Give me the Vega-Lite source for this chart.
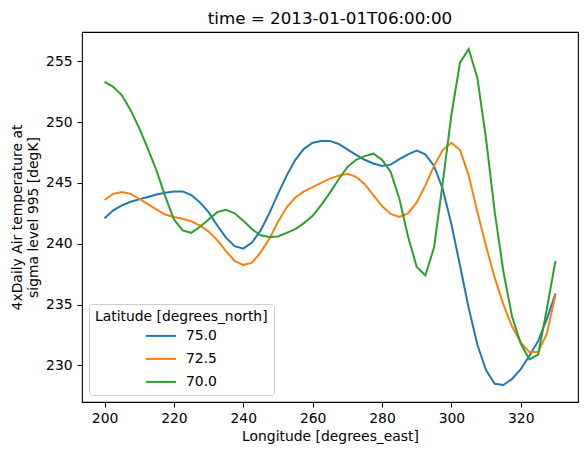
{
  "$schema": "https://vega.github.io/schema/vega-lite/v6.json",
  "width": 496,
  "height": 370,
  "autosize": {"type": "none"},
  "padding": {"left": 82, "top": 32, "right": 9, "bottom": 53},
  "background": "white",
  "title": {
    "text": "time = 2013-01-01T06:00:00",
    "fontSize": 16.7,
    "fontWeight": "normal",
    "font": "DejaVu Sans",
    "color": "black",
    "anchor": "middle",
    "frame": "group",
    "offset": 4
  },
  "datasets": {
    "air": [
      {"lon": 200, "lat": "75.0", "air": 242.1},
      {"lon": 202.5, "lat": "75.0", "air": 242.75},
      {"lon": 205, "lat": "75.0", "air": 243.15},
      {"lon": 207.5, "lat": "75.0", "air": 243.45},
      {"lon": 210, "lat": "75.0", "air": 243.65},
      {"lon": 212.5, "lat": "75.0", "air": 243.85},
      {"lon": 215, "lat": "75.0", "air": 244.05},
      {"lon": 217.5, "lat": "75.0", "air": 244.2},
      {"lon": 220, "lat": "75.0", "air": 244.3},
      {"lon": 222.5, "lat": "75.0", "air": 244.3},
      {"lon": 225, "lat": "75.0", "air": 244.0},
      {"lon": 227.5, "lat": "75.0", "air": 243.4},
      {"lon": 230, "lat": "75.0", "air": 242.6},
      {"lon": 232.5, "lat": "75.0", "air": 241.5},
      {"lon": 235, "lat": "75.0", "air": 240.5},
      {"lon": 237.5, "lat": "75.0", "air": 239.8},
      {"lon": 240, "lat": "75.0", "air": 239.6},
      {"lon": 242.5, "lat": "75.0", "air": 240.1},
      {"lon": 245, "lat": "75.0", "air": 241.1},
      {"lon": 247.5, "lat": "75.0", "air": 242.5},
      {"lon": 250, "lat": "75.0", "air": 244.1},
      {"lon": 252.5, "lat": "75.0", "air": 245.6},
      {"lon": 255, "lat": "75.0", "air": 246.9},
      {"lon": 257.5, "lat": "75.0", "air": 247.8},
      {"lon": 260, "lat": "75.0", "air": 248.3},
      {"lon": 262.5, "lat": "75.0", "air": 248.45},
      {"lon": 265, "lat": "75.0", "air": 248.45},
      {"lon": 267.5, "lat": "75.0", "air": 248.2},
      {"lon": 270, "lat": "75.0", "air": 247.75},
      {"lon": 272.5, "lat": "75.0", "air": 247.3},
      {"lon": 275, "lat": "75.0", "air": 246.9},
      {"lon": 277.5, "lat": "75.0", "air": 246.6},
      {"lon": 280, "lat": "75.0", "air": 246.4},
      {"lon": 282.5, "lat": "75.0", "air": 246.5},
      {"lon": 285, "lat": "75.0", "air": 246.95},
      {"lon": 287.5, "lat": "75.0", "air": 247.35},
      {"lon": 290, "lat": "75.0", "air": 247.65},
      {"lon": 292.5, "lat": "75.0", "air": 247.35},
      {"lon": 295, "lat": "75.0", "air": 246.4},
      {"lon": 297.5, "lat": "75.0", "air": 244.5},
      {"lon": 300, "lat": "75.0", "air": 241.6},
      {"lon": 302.5, "lat": "75.0", "air": 238.2},
      {"lon": 305, "lat": "75.0", "air": 234.7},
      {"lon": 307.5, "lat": "75.0", "air": 231.7},
      {"lon": 310, "lat": "75.0", "air": 229.6},
      {"lon": 312.5, "lat": "75.0", "air": 228.5},
      {"lon": 315, "lat": "75.0", "air": 228.4},
      {"lon": 317.5, "lat": "75.0", "air": 228.9},
      {"lon": 320, "lat": "75.0", "air": 229.7},
      {"lon": 322.5, "lat": "75.0", "air": 230.8},
      {"lon": 325, "lat": "75.0", "air": 232.0},
      {"lon": 327.5, "lat": "75.0", "air": 233.8},
      {"lon": 330, "lat": "75.0", "air": 235.9},

      {"lon": 200, "lat": "72.5", "air": 243.6},
      {"lon": 202.5, "lat": "72.5", "air": 244.1},
      {"lon": 205, "lat": "72.5", "air": 244.25},
      {"lon": 207.5, "lat": "72.5", "air": 244.1},
      {"lon": 210, "lat": "72.5", "air": 243.7},
      {"lon": 212.5, "lat": "72.5", "air": 243.25},
      {"lon": 215, "lat": "72.5", "air": 242.8},
      {"lon": 217.5, "lat": "72.5", "air": 242.4},
      {"lon": 220, "lat": "72.5", "air": 242.2},
      {"lon": 222.5, "lat": "72.5", "air": 242.05},
      {"lon": 225, "lat": "72.5", "air": 241.85},
      {"lon": 227.5, "lat": "72.5", "air": 241.5},
      {"lon": 230, "lat": "72.5", "air": 241.0},
      {"lon": 232.5, "lat": "72.5", "air": 240.3},
      {"lon": 235, "lat": "72.5", "air": 239.4},
      {"lon": 237.5, "lat": "72.5", "air": 238.6},
      {"lon": 240, "lat": "72.5", "air": 238.25},
      {"lon": 242.5, "lat": "72.5", "air": 238.45},
      {"lon": 245, "lat": "72.5", "air": 239.3},
      {"lon": 247.5, "lat": "72.5", "air": 240.4},
      {"lon": 250, "lat": "72.5", "air": 241.8},
      {"lon": 252.5, "lat": "72.5", "air": 243.0},
      {"lon": 255, "lat": "72.5", "air": 243.8},
      {"lon": 257.5, "lat": "72.5", "air": 244.3},
      {"lon": 260, "lat": "72.5", "air": 244.65},
      {"lon": 262.5, "lat": "72.5", "air": 245.0},
      {"lon": 265, "lat": "72.5", "air": 245.35},
      {"lon": 267.5, "lat": "72.5", "air": 245.6},
      {"lon": 270, "lat": "72.5", "air": 245.75},
      {"lon": 272.5, "lat": "72.5", "air": 245.5},
      {"lon": 275, "lat": "72.5", "air": 244.9},
      {"lon": 277.5, "lat": "72.5", "air": 244.0},
      {"lon": 280, "lat": "72.5", "air": 243.1},
      {"lon": 282.5, "lat": "72.5", "air": 242.45},
      {"lon": 285, "lat": "72.5", "air": 242.2},
      {"lon": 287.5, "lat": "72.5", "air": 242.5},
      {"lon": 290, "lat": "72.5", "air": 243.4},
      {"lon": 292.5, "lat": "72.5", "air": 244.8},
      {"lon": 295, "lat": "72.5", "air": 246.4},
      {"lon": 297.5, "lat": "72.5", "air": 247.7},
      {"lon": 300, "lat": "72.5", "air": 248.3},
      {"lon": 302.5, "lat": "72.5", "air": 247.7},
      {"lon": 305, "lat": "72.5", "air": 245.6},
      {"lon": 307.5, "lat": "72.5", "air": 242.6},
      {"lon": 310, "lat": "72.5", "air": 239.8},
      {"lon": 312.5, "lat": "72.5", "air": 237.2},
      {"lon": 315, "lat": "72.5", "air": 235.0},
      {"lon": 317.5, "lat": "72.5", "air": 233.2},
      {"lon": 320, "lat": "72.5", "air": 231.9},
      {"lon": 322.5, "lat": "72.5", "air": 231.1},
      {"lon": 325, "lat": "72.5", "air": 231.1},
      {"lon": 327.5, "lat": "72.5", "air": 232.6},
      {"lon": 330, "lat": "72.5", "air": 235.8},

      {"lon": 200, "lat": "70.0", "air": 253.3},
      {"lon": 202.5, "lat": "70.0", "air": 252.9},
      {"lon": 205, "lat": "70.0", "air": 252.2},
      {"lon": 207.5, "lat": "70.0", "air": 251.0},
      {"lon": 210, "lat": "70.0", "air": 249.5},
      {"lon": 212.5, "lat": "70.0", "air": 247.8},
      {"lon": 215, "lat": "70.0", "air": 246.0},
      {"lon": 217.5, "lat": "70.0", "air": 243.9},
      {"lon": 220, "lat": "70.0", "air": 242.0},
      {"lon": 222.5, "lat": "70.0", "air": 241.1},
      {"lon": 225, "lat": "70.0", "air": 240.9},
      {"lon": 227.5, "lat": "70.0", "air": 241.4},
      {"lon": 230, "lat": "70.0", "air": 242.0},
      {"lon": 232.5, "lat": "70.0", "air": 242.6},
      {"lon": 235, "lat": "70.0", "air": 242.8},
      {"lon": 237.5, "lat": "70.0", "air": 242.5},
      {"lon": 240, "lat": "70.0", "air": 241.9},
      {"lon": 242.5, "lat": "70.0", "air": 241.2},
      {"lon": 245, "lat": "70.0", "air": 240.7},
      {"lon": 247.5, "lat": "70.0", "air": 240.55},
      {"lon": 250, "lat": "70.0", "air": 240.6},
      {"lon": 252.5, "lat": "70.0", "air": 240.9},
      {"lon": 255, "lat": "70.0", "air": 241.2},
      {"lon": 257.5, "lat": "70.0", "air": 241.7},
      {"lon": 260, "lat": "70.0", "air": 242.3},
      {"lon": 262.5, "lat": "70.0", "air": 243.2},
      {"lon": 265, "lat": "70.0", "air": 244.2},
      {"lon": 267.5, "lat": "70.0", "air": 245.3},
      {"lon": 270, "lat": "70.0", "air": 246.3},
      {"lon": 272.5, "lat": "70.0", "air": 246.9},
      {"lon": 275, "lat": "70.0", "air": 247.2},
      {"lon": 277.5, "lat": "70.0", "air": 247.4},
      {"lon": 280, "lat": "70.0", "air": 246.9},
      {"lon": 282.5, "lat": "70.0", "air": 245.9},
      {"lon": 285, "lat": "70.0", "air": 243.7},
      {"lon": 287.5, "lat": "70.0", "air": 240.6},
      {"lon": 290, "lat": "70.0", "air": 238.1},
      {"lon": 292.5, "lat": "70.0", "air": 237.4},
      {"lon": 295, "lat": "70.0", "air": 239.7},
      {"lon": 297.5, "lat": "70.0", "air": 245.0},
      {"lon": 300, "lat": "70.0", "air": 250.6},
      {"lon": 302.5, "lat": "70.0", "air": 254.9},
      {"lon": 305, "lat": "70.0", "air": 256.0},
      {"lon": 307.5, "lat": "70.0", "air": 253.6},
      {"lon": 310, "lat": "70.0", "air": 248.6},
      {"lon": 312.5, "lat": "70.0", "air": 242.6},
      {"lon": 315, "lat": "70.0", "air": 237.7},
      {"lon": 317.5, "lat": "70.0", "air": 234.0},
      {"lon": 320, "lat": "70.0", "air": 231.8},
      {"lon": 322.5, "lat": "70.0", "air": 230.5},
      {"lon": 325, "lat": "70.0", "air": 230.9},
      {"lon": 327.5, "lat": "70.0", "air": 234.6},
      {"lon": 330, "lat": "70.0", "air": 238.6}
    ]
  },
  "data": {"name": "air"},
  "mark": {"type": "line", "strokeWidth": 2, "clip": true},
  "encoding": {
    "x": {
      "field": "lon",
      "type": "quantitative",
      "scale": {"domain": [193.5, 336.5], "nice": false, "zero": false},
      "axis": {
        "title": "Longitude [degrees_east]",
        "values": [200, 220, 240, 260, 280, 300, 320],
        "titlePadding": 4
      }
    },
    "y": {
      "field": "air",
      "type": "quantitative",
      "scale": {"domain": [227.0, 257.4], "nice": false, "zero": false},
      "axis": {
        "title": ["4xDaily Air temperature at", "sigma level 995 [degK]"],
        "values": [230, 235, 240, 245, 250, 255],
        "titlePadding": 5
      }
    },
    "color": {
      "field": "lat",
      "type": "nominal",
      "sort": ["75.0", "72.5", "70.0"],
      "scale": {"domain": ["75.0", "72.5", "70.0"], "range": ["#1f77b4", "#ff7f0e", "#2ca02c"]},
      "legend": {
        "title": "Latitude [degrees_north]",
        "orient": "bottom-left",
        "offset": 7,
        "padding": 6,
        "fillColor": "rgba(255,255,255,0.8)",
        "strokeColor": "#cccccc",
        "cornerRadius": 3,
        "symbolType": "stroke",
        "symbolSize": 900,
        "symbolStrokeWidth": 2,
        "symbolOffset": 50,
        "labelOffset": 9,
        "rowPadding": -1,
        "titlePadding": -4
      }
    }
  },
  "config": {
    "font": "DejaVu Sans",
    "view": {"stroke": "black", "strokeWidth": 1.1},
    "axis": {
      "grid": false,
      "domain": false,
      "ticks": true,
      "tickColor": "black",
      "tickWidth": 1.1,
      "tickSize": 5,
      "labelPadding": 4.9,
      "labelFont": "DejaVu Sans",
      "labelFontSize": 13.9,
      "labelColor": "black",
      "titleFont": "DejaVu Sans",
      "titleFontSize": 13.9,
      "titleFontWeight": "normal",
      "titleColor": "black",
      "labelFlush": false,
      "labelOverlap": false
    },
    "legend": {
      "labelFont": "DejaVu Sans",
      "labelFontSize": 13.9,
      "labelColor": "black",
      "titleFont": "DejaVu Sans",
      "titleFontSize": 13.9,
      "titleFontWeight": "normal",
      "titleColor": "black"
    }
  }
}
